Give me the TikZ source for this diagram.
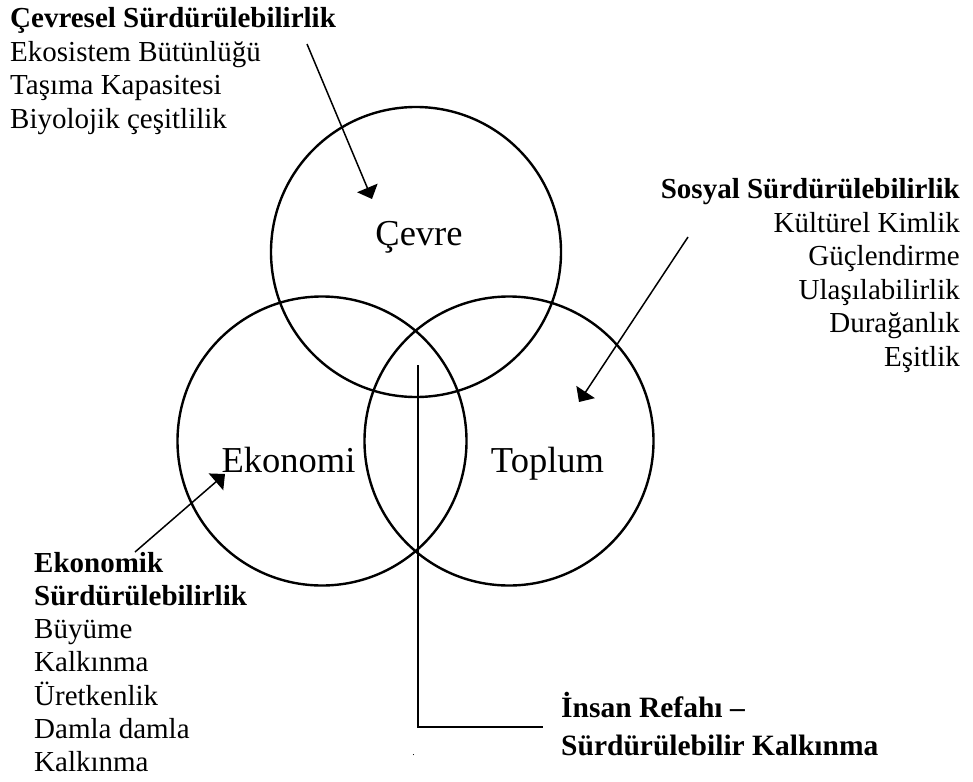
\documentclass[tikz,border=0pt]{standalone}
\usepackage{fontspec}
\setmainfont{Liberation Serif}
\usetikzlibrary{arrows.meta}
\begin{document}
\begin{tikzpicture}[x=1pt, y=-1pt,
  ring/.style={draw, circle, line width=2.4pt, inner sep=0pt, outer sep=0pt},
  pointer/.style={line width=1.5pt, -{Triangle[width=22pt,length=12pt]}},
  hubline/.style={line width=2.4pt},
  body/.style={font=\fontsize{29}{33}\selectfont, inner sep=0pt},
  head/.style={font=\fontsize{29}{33}\selectfont\bfseries, inner sep=0pt},
  goalstyle/.style={font=\fontsize{29.5}{33}\selectfont\bfseries, inner sep=0pt},
  ringlabel/.style={font=\fontsize{36.5}{40}\selectfont, inner sep=0pt}]
\useasboundingbox (0,0) rectangle (973,781);

% the three overlapping circles
\node[ring, minimum size=290pt] (env) at (416,252) {};
\node[ring, minimum size=289pt] (eco) at (322,441) {};
\node[ring, minimum size=289pt] (soc) at (509,441) {};

\node[ringlabel, anchor=base] (envlbl) at (419,245) {Çevre};
\node[ringlabel, anchor=base] (ecolbl) at (288.5,472) {Ekonomi};
\node[ringlabel, anchor=base] (soclbl) at (547.5,472) {Toplum};

% environmental sustainability block (top left)
\node[head, anchor=base west] (envh) at (10,28) {Çevresel Sürdürülebilirlik};
\foreach \t [count=\i] in {Ekosistem Bütünlüğü, Taşıma Kapasitesi, Biyolojik çeşitlilik}
  \node[body, anchor=base west] (envi\i) at (10,{28+33.5*\i}) {\t};

% social sustainability block (right)
\node[head, anchor=base east] (soch) at (960,198.5) {Sosyal Sürdürülebilirlik};
\foreach \t [count=\i] in {Kültürel Kimlik, Güçlendirme, Ulaşılabilirlik, Durağanlık, Eşitlik}
  \node[body, anchor=base east] (soci\i) at (960,{198.5+33.5*\i}) {\t};

% economic sustainability block (bottom left)
\node[head, anchor=base west] (ecoh1) at (34,572) {Ekonomik};
\node[head, anchor=base west] (ecoh2) at (34,605.3) {Sürdürülebilirlik};
\foreach \t [count=\i] in {Büyüme, Kalkınma, Üretkenlik, Damla damla, Kalkınma}
  \node[body, anchor=base west] (ecoi\i) at (34,{605.3+33.3*\i}) {\t};

% human well-being / sustainable development
\node[goalstyle, anchor=base west] (goal1) at (561,717) {İnsan Refahı –};
\node[goalstyle, anchor=base west] (goal2) at (561,755) {Sürdürülebilir Kalkınma};
\node[font=\fontsize{10}{12}\selectfont, inner sep=0pt, anchor=base] (dot) at (413.5,755) {.};

% pointer arrows
\coordinate (envsrc) at (307,44);
\coordinate (envtip) at (372,199);
\coordinate (socsrc) at (688,237);
\coordinate (soctip) at (579,402);
\coordinate (ecosrc) at (135,552);
\coordinate (ecotip) at (225,474);
\draw[pointer] (envsrc) -- (envtip);
\draw[pointer] (socsrc) -- (soctip);
\draw[pointer] (ecosrc) -- (ecotip);

% line from the common centre to the goal text
\coordinate (hubtop) at (418,365);
\coordinate (hubend) at (543,727);
\draw[hubline] (hubtop) |- (hubend);
\end{tikzpicture}
\end{document}
